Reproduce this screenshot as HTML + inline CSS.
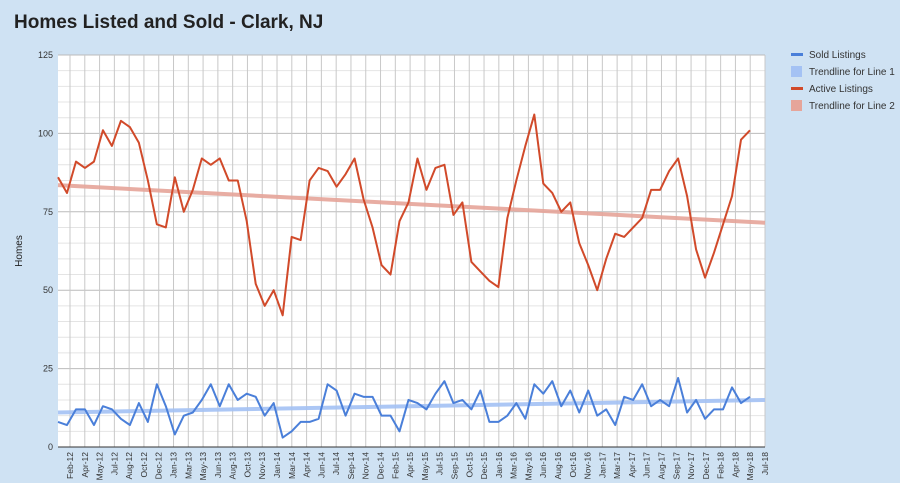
<!DOCTYPE html>
<html><head><meta charset="utf-8"><style>
body{margin:0;background:#cfe2f3;font-family:"Liberation Sans",sans-serif;}
svg{display:block}
</style></head><body>
<svg id="chart" width="900" height="483">
<rect x="0" y="0" width="900" height="483" fill="#cfe2f3"/>
<text x="14" y="28" font-size="19" font-weight="bold" fill="#222">Homes Listed and Sold - Clark, NJ</text>
<rect x="58" y="55" width="707" height="392" fill="#fff"/>
<g id="grid"></g>
<g id="ticks"></g>
<g id="series"></g>
<text transform="translate(22,251) rotate(-90)" text-anchor="middle" font-size="10" fill="#222">Homes</text>
<g font-size="10" fill="#333">
<rect x="791" y="53" width="12" height="3" fill="#4a7fd9"/>
<text x="809" y="58">Sold Listings</text>
<rect x="791" y="66" width="11" height="11" fill="#a4c2f4"/>
<text x="809" y="75">Trendline for Line 1</text>
<rect x="791" y="87" width="12" height="3" fill="#d14a2a"/>
<text x="809" y="92">Active Listings</text>
<rect x="791" y="100" width="11" height="11" fill="#e6a59a"/>
<text x="809" y="109">Trendline for Line 2</text>
</g>
</svg>
<script>
const xLabels=["Feb-12","Apr-12","May-12","Jul-12","Aug-12","Oct-12","Dec-12","Jan-13","Mar-13","May-13","Jun-13","Aug-13","Oct-13","Nov-13","Jan-14","Mar-14","Apr-14","Jun-14","Jul-14","Sep-14","Nov-14","Dec-14","Feb-15","Apr-15","May-15","Jul-15","Sep-15","Oct-15","Dec-15","Jan-16","Mar-16","May-16","Jun-16","Aug-16","Oct-16","Nov-16","Jan-17","Mar-17","Apr-17","Jun-17","Aug-17","Sep-17","Nov-17","Dec-17","Feb-18","Apr-18","May-18","Jul-18"];
const yTicks=[0,25,50,75,100,125];
const activeListings=[86,81,91,89,91,101,96,104,102,97,85,71,70,86,75,82,92,90,92,85,85,72,52,45,50,42,67,66,85,89,88,83,87,92,79,70,58,55,72,78,92,82,89,90,74,78,59,56,53,51,73,85,96,106,84,81,75,78,65,58,50,60,68,67,70,73,82,82,88,92,80,63,54,62,71,80,98,101];
const soldListings=[8,7,12,12,7,13,12,9,7,14,8,20,13,4,10,11,15,20,13,20,15,17,16,10,14,3,5,8,8,9,20,18,10,17,16,16,10,10,5,15,14,12,17,21,14,15,12,18,8,8,10,14,9,20,17,21,13,18,11,18,10,12,7,16,15,20,13,15,13,22,11,15,9,12,12,19,14,16];
const trend1=[11,15];
const trend2=[83.5,71.5];
const NS="http://www.w3.org/2000/svg";
const L=58,R=765,T=55,B=447,lastX=750,yMax=125;
const y=v=>B-(v/yMax)*(B-T);
const xi=(i,n)=>L+i*(lastX-L)/(n-1);
const xl=i=>70+i*(R-70)/(xLabels.length-1);
function mk(tag,attrs,parent){const e=document.createElementNS(NS,tag);for(const k in attrs)e.setAttribute(k,attrs[k]);parent.appendChild(e);return e;}
const grid=document.getElementById('grid'),ticks=document.getElementById('ticks'),series=document.getElementById('series');
for(let v=0;v<=yMax;v+=5){
  const l=mk('line',{x1:L,x2:R,y1:y(v),y2:y(v),stroke:v%25===0?'#bbb':'#e4e4e4','stroke-width':1},grid);
  
  
}
xLabels.forEach((lab,i)=>{
  const x=xl(i);
  const l=mk('line',{x1:x,x2:x,y1:T,y2:B,stroke:'#c8c8c8','stroke-width':1},grid);
  
  
  const t=mk('text',{transform:`translate(${x+3},${B+5}) rotate(-90)`,'text-anchor':'end','font-size':8.5,fill:'#333'},ticks);
  t.textContent=lab;
  
  
});
yTicks.forEach(v=>{
  const t=mk('text',{x:53,y:y(v)+3,'text-anchor':'end','font-size':9,fill:'#333'},ticks);
  t.textContent=v;
  
  
});
const ax=mk('line',{x1:L,x2:R,y1:B,y2:B,stroke:'#333','stroke-width':1},grid);


const tr2=mk('line',{x1:L,y1:y(trend2[0]),x2:R,y2:y(trend2[1]),stroke:'#e6a59a','stroke-width':4,opacity:0.9},series);


const tr1=mk('line',{x1:L,y1:y(trend1[0]),x2:R,y2:y(trend1[1]),stroke:'#a4c2f4','stroke-width':4,opacity:0.9},series);


const pa=mk('polyline',{points:activeListings.map((v,i)=>xi(i,activeListings.length)+','+y(v)).join(' '),fill:'none',stroke:'#d14a2a','stroke-width':2,'stroke-linejoin':'round'},series);


const ps=mk('polyline',{points:soldListings.map((v,i)=>xi(i,soldListings.length)+','+y(v)).join(' '),fill:'none',stroke:'#4a7fd9','stroke-width':2,'stroke-linejoin':'round'},series);


</script>
</body></html>
